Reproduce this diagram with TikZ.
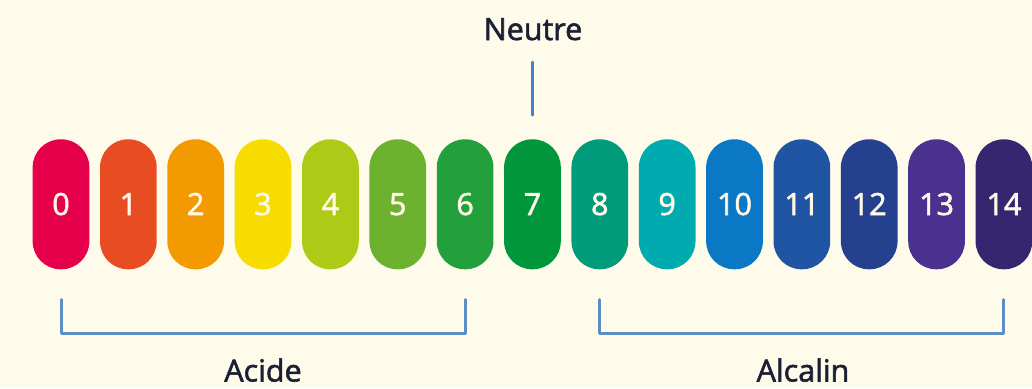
\documentclass[tikz,border=0pt]{standalone}
\usepackage{fontspec}
\setmainfont{Open Sans}
\newfontfamily\medfont{Open Sans}[BoldFont={Open Sans},BoldFeatures={FakeBold=1.8}]
\definecolor{bg}{HTML}{FEFBEA}
\definecolor{c0}{HTML}{E6004C}
\definecolor{c1}{HTML}{E84C22}
\definecolor{c2}{HTML}{F39A00}
\definecolor{c3}{HTML}{F7DC00}
\definecolor{c4}{HTML}{ADCB16}
\definecolor{c5}{HTML}{6CB22F}
\definecolor{c6}{HTML}{22A03C}
\definecolor{c7}{HTML}{00963C}
\definecolor{c8}{HTML}{009B7A}
\definecolor{c9}{HTML}{00ABB0}
\definecolor{c10}{HTML}{0A78C4}
\definecolor{c11}{HTML}{1F55A2}
\definecolor{c12}{HTML}{25408F}
\definecolor{c13}{HTML}{4A3190}
\definecolor{c14}{HTML}{352670}
\definecolor{numtxt}{HTML}{FFF8E6}
\definecolor{lbl}{HTML}{1A1F33}
\definecolor{neutline}{HTML}{3F85CC}
\definecolor{brkline}{HTML}{5B8DC7}
\begin{document}
\begin{tikzpicture}[x=1pt,y=-1pt,
  pill/.style={draw=none,rectangle,rounded corners=28pt,minimum width=56.7pt,minimum height=130pt,inner sep=0pt},
  num/.style={anchor=base,text=numtxt,font=\medfont\bfseries\fontsize{30.5}{32}\selectfont,inner sep=0pt},
  lab/.style={text=lbl,font=\medfont\bfseries\fontsize{30.5}{32}\selectfont,inner sep=0pt,anchor=base},
  neut/.style={draw=neutline,line width=3pt,line cap=round},
  brk/.style={draw=brkline,line width=3pt,line cap=round,line join=round}]
\useasboundingbox[fill=bg] (0,0) rectangle (1032,388);
\foreach \i in {0,...,14}{
  \node[pill,fill=c\i] (p\i) at ({61+67.35*\i},204.3) {};
  \node[num] (n\i) at ({61+67.35*\i},215) {\i};
}
\node[lab] (neutre) at (533,40) {Neutre};
\node[lab] (acide) at (263,381.5) {Acide};
\node[lab] (alcalin) at (803,381.5) {Alcalin};
\draw[neut] ([yshift=77pt]p7.north) -- ([yshift=24pt]p7.north);
\draw[brk] ([yshift=-30pt]p0.south) |- ([yshift=-64pt]p6.south) -- ([yshift=-30pt]p6.south);
\draw[brk] ([yshift=-30pt]p8.south) |- ([yshift=-64pt]p14.south) -- ([yshift=-30pt]p14.south);
\end{tikzpicture}
\end{document}
